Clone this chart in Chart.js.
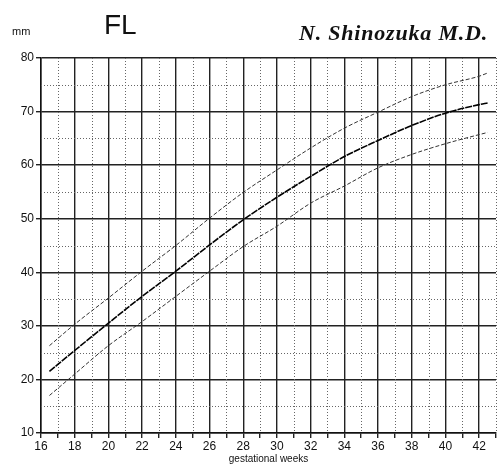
<!DOCTYPE html>
<html>
<head>
<meta charset="utf-8">
<script src="https://cdn.jsdelivr.net/npm/chart.js@4"></script>
<style>
  body { margin: 0; background: #fff; }
  #wrap { position: relative; width: 497px; height: 465px; }
  .lbl { position: absolute; line-height: 1; color: #111; white-space: nowrap; }
  #mm { left: 12px; top: 25px; font: 11px "Liberation Sans", Arial, sans-serif; }
  #fl { left: 104px; top: 9px; font: 28px "Liberation Sans", Arial, sans-serif; }
  #sig { left: 299px; top: 20px; font: bold italic 22px "Liberation Serif", serif; letter-spacing: 0.8px; }
</style>
</head>
<body>
<div id="wrap">
  <canvas id="fl_chart" width="497" height="465"></canvas>
  <div class="lbl" id="mm">mm</div>
  <div class="lbl" id="fl">FL</div>
  <div class="lbl" id="sig">N. Shinozuka M.D.</div>
</div>
<script>
// gestational weeks and femur length (mm)
let weeks = [16.5, 18, 20, 22, 24, 26, 28, 30, 32, 34, 36, 38, 40, 42, 42.5];
let upperFL = [26.3, 30.3, 35.2, 40.2, 45.0, 50.1, 54.9, 59.1, 63.2, 66.9, 69.9, 72.8, 75.0, 76.6, 77.2];
let meanFL  = [21.5, 25.4, 30.5, 35.5, 40.2, 45.1, 49.8, 54.0, 57.9, 61.6, 64.6, 67.4, 69.7, 71.3, 71.6];
let lowerFL = [17.0, 21.0, 26.3, 30.8, 35.5, 40.2, 44.8, 48.6, 52.9, 56.1, 59.5, 62.0, 64.0, 65.7, 66.1];
let yTicks = [10, 20, 30, 40, 50, 60, 70, 80];

function pts(vals) {
  return weeks.map(function (w, i) { return { x: w, y: vals[i] }; });
}

// dotted minor grid (odd weeks, 5 mm steps)
let minorGrid = {
  id: 'minorGrid',
  beforeDatasetsDraw: function (chart) {
    let ctx = chart.ctx, a = chart.chartArea;
    let xs = chart.scales.x, ys = chart.scales.y;
    ctx.save();
    ctx.strokeStyle = '#666';
    ctx.lineWidth = 1;
    ctx.setLineDash([1, 2]);
    for (let w = 17; w <= 43; w += 2) {
      let px = Math.round(xs.getPixelForValue(w)) + 0.5;
      ctx.beginPath(); ctx.moveTo(px, a.top); ctx.lineTo(px, a.bottom); ctx.stroke();
    }
    for (let v = 15; v < 80; v += 10) {
      let py = Math.round(ys.getPixelForValue(v)) + 0.5;
      ctx.beginPath(); ctx.moveTo(a.left, py); ctx.lineTo(a.right, py); ctx.stroke();
    }
    ctx.restore();
  }
};

let ctx = document.getElementById('fl_chart').getContext('2d');
let flChart = new Chart(ctx, {
  type: 'line',
  data: {
    datasets: [
      { label: '+2SD', data: pts(upperFL), borderColor: '#333', borderWidth: 1, borderDash: [4, 2] },
      { label: 'mean', data: pts(meanFL), borderColor: '#000', borderWidth: 1.6, borderDash: [7, 1] },
      { label: '-2SD', data: pts(lowerFL), borderColor: '#333', borderWidth: 1, borderDash: [4, 2] }
    ]
  },
  options: {
    responsive: false,
    animation: false,
    elements: {
      point: { radius: 0 },
      line: { tension: 0.4, cubicInterpolationMode: 'monotone', fill: false }
    },
    layout: { padding: { left: 0, right: 0, top: 58, bottom: 0 } },
    plugins: { legend: { display: false }, tooltip: { enabled: false } },
    scales: {
      x: {
        type: 'linear',
        min: 16,
        max: 43,
        afterFit: function (s) { s.height = 32; },
        ticks: {
          stepSize: 1,
          autoSkip: false,
          maxRotation: 0,
          padding: 1,
          color: '#111',
          font: { family: 'Liberation Sans', size: 12 },
          callback: function (v) { return v % 2 === 0 && v <= 42 ? String(v) : ''; }
        },
        grid: {
          color: function (c) { return c.tick && c.tick.value % 2 === 0 ? '#222' : 'rgba(0,0,0,0)'; },
          lineWidth: 1.4,
          tickColor: '#222',
          tickLength: 5
        },
        border: { display: true, color: '#111', width: 1.5 },
        title: {
          display: true,
          text: 'gestational weeks',
          color: '#111',
          padding: { top: 0, bottom: 0 },
          font: { family: 'Liberation Sans', size: 10 }
        }
      },
      y: {
        min: 10,
        max: 80,
        afterFit: function (s) { s.width = 41; },
        afterBuildTicks: function (s) {
          s.ticks = yTicks.map(function (v) { return { value: v }; });
        },
        ticks: {
          padding: 2,
          color: '#111',
          font: { family: 'Liberation Sans', size: 12 }
        },
        grid: {
          color: '#222',
          lineWidth: 1.4,
          tickColor: '#222',
          tickLength: 5
        },
        border: { display: true, color: '#111', width: 1.5 }
      }
    }
  },
  plugins: [minorGrid]
});
</script>
</body>
</html>
